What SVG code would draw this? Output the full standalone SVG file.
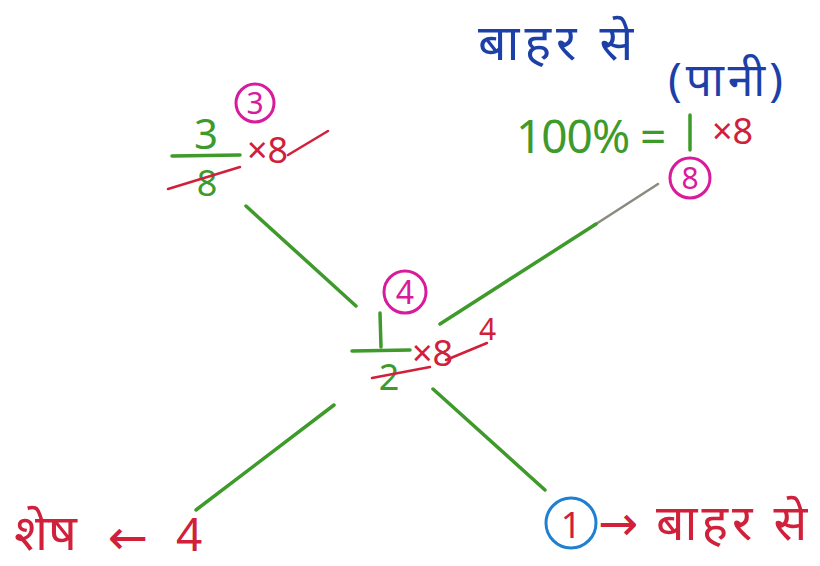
<svg xmlns="http://www.w3.org/2000/svg" width="820" height="566" viewBox="0 0 820 566">
<style>
text{font-family:"Noto Sans","Liberation Sans",sans-serif}
.g{fill:#3e9a2a}.r{fill:#d0203a}.b{fill:#1c3fa8}.p{fill:#d81a9c}
.ar{font-family:"DejaVu Sans",sans-serif}
.gl{stroke:#3e9a2a;stroke-width:3.5;stroke-linecap:round;fill:none}
.rl{stroke:#d0203a;stroke-width:2.5;stroke-linecap:round;fill:none}
.pc{stroke:#d81a9c;stroke-width:3;fill:none}
.bc{stroke:#1f7fd0;stroke-width:3;fill:none}
</style>
<rect width="820" height="566" fill="#ffffff"/>
<g id="connectors">
<line class="gl" x1="246" y1="206" x2="356" y2="306"/>
<line x1="658" y1="184" x2="596" y2="224" stroke="#8a8a80" stroke-width="2.5" stroke-linecap="round"/>
<line class="gl" x1="596" y1="224" x2="440" y2="324"/>
<line class="gl" x1="334" y1="405" x2="196" y2="510"/>
<line class="gl" x1="433" y1="389" x2="545" y2="490"/>
</g>
<g id="node-top-left">
<circle class="pc" cx="255" cy="103" r="19"/>
<text class="p" x="255" y="114" font-size="30" text-anchor="middle">3</text>
<text class="g" x="206" y="149" font-size="42" text-anchor="middle">3</text>
<line class="gl" x1="172" y1="156" x2="240" y2="155"/>
<text class="g" x="207" y="196" font-size="36" text-anchor="middle">8</text>
<line class="rl" x1="168" y1="189" x2="240" y2="167"/>
<text class="r" x="247" y="163" font-size="36">×8</text>
<line class="rl" x1="288" y1="155" x2="328" y2="131"/>
</g>
<g id="node-top-right">
<text class="b" x="478" y="60" font-size="50" letter-spacing="5">बाहर से</text>
<text class="b" x="668" y="96" font-size="46" letter-spacing="4">(पानी)</text>
<text class="g" x="516" y="153" font-size="46" letter-spacing="-1">100% =</text>
<line class="gl" x1="690" y1="115" x2="690" y2="150"/>
<text class="r" x="712" y="144" font-size="36">×8</text>
<circle class="pc" cx="690" cy="178" r="20"/>
<text class="p" x="690" y="189" font-size="30" text-anchor="middle">8</text>
</g>
<g id="node-center">
<circle class="pc" cx="405" cy="292" r="21"/>
<text class="p" x="405" y="304" font-size="32" text-anchor="middle">4</text>
<line class="gl" x1="380" y1="313" x2="381" y2="347"/>
<line class="gl" x1="352" y1="351" x2="410" y2="350"/>
<text class="g" x="389" y="390" font-size="36" text-anchor="middle">2</text>
<line class="rl" x1="372" y1="378" x2="430" y2="367"/>
<text class="r" x="412" y="366" font-size="36">×8</text>
<line class="rl" x1="446" y1="360" x2="487" y2="343"/>
<text class="r" x="479" y="340" font-size="30">4</text>
</g>
<g id="node-bottom-left">
<text class="r" x="14" y="550" font-size="50">शेष</text>
<text class="r ar" x="108" y="554" font-size="48">←</text>
<text class="r" x="176" y="551" font-size="46">4</text>
</g>
<g id="node-bottom-right">
<circle class="bc" cx="571" cy="523" r="25"/>
<text class="r" x="571" y="538" font-size="36" text-anchor="middle">1</text>
<text class="r ar" x="598" y="540" font-size="48">→</text>
<text class="r" x="656" y="540" font-size="50" letter-spacing="4">बाहर से</text>
</g>
</svg>
